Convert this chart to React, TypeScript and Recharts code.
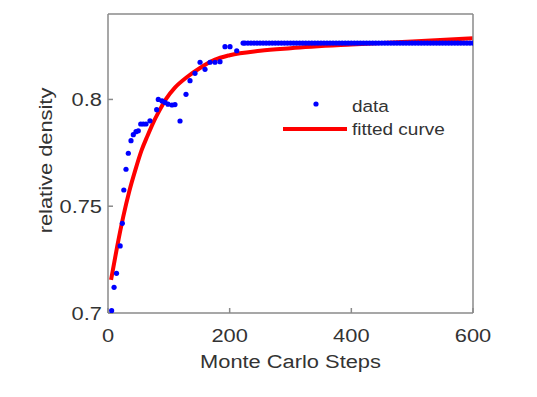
import React from "react";
import {
  ComposedChart,
  Scatter,
  Line,
  XAxis,
  YAxis,
  Legend,
  Label,
} from "recharts";

// measured relative density (early, noisy part of the run)
const stepsEarly = [
  6, 10, 14, 20, 23.5, 26, 29.6, 33.4, 37.8, 41.6, 46, 49.8, 53.8, 58, 62.5, 69,
  80, 82.7, 88.8, 93.7, 98.6, 105.2, 110.1, 118.4, 128.2, 134.8, 143, 151.3,
  159.5, 167.7, 175.9, 184.1, 192.3, 200.6, 211.6,
];
const densityEarly = [
  0.7011, 0.712, 0.7186, 0.7314, 0.742, 0.7576, 0.7673, 0.7748, 0.7807, 0.7835,
  0.7849, 0.7853, 0.7885, 0.7885, 0.7885, 0.79, 0.7952, 0.8, 0.7993, 0.7986,
  0.7978, 0.7974, 0.7976, 0.7899, 0.8024, 0.8088, 0.8122, 0.8174, 0.8141,
  0.8174, 0.8174, 0.8177, 0.8247, 0.8247, 0.8228,
];

// plateau: density stays put after ~220 steps
const stepsPlateau = [
  222, 225, 230, 235, 240, 245, 250, 255, 260, 265, 270, 275, 280, 285, 290,
  295, 300, 305, 310, 315, 320, 325, 330, 335, 340, 345, 350, 355, 360, 365,
  370, 375, 380, 385, 390, 395, 400, 405, 410, 415, 420, 425, 430, 435, 440,
  445, 450, 455, 460, 465, 470, 475, 480, 485, 490, 495, 500, 505, 510, 515,
  520, 525, 530, 535, 540, 545, 550, 555, 560, 565, 570, 575, 580, 585, 590,
  595, 600,
];
const plateauDensity = 0.8264;

// fitted curve
const fitSteps = [5, 15, 25, 35, 45, 55, 65, 75, 85, 95, 110, 130, 150, 175, 200, 250, 300, 400, 500, 600];
const fitDensity = [
  0.7155, 0.731, 0.745, 0.757, 0.767, 0.776, 0.783, 0.7895, 0.795, 0.8, 0.8055,
  0.8105, 0.8145, 0.8185, 0.8207, 0.8228, 0.824, 0.8257, 0.8271, 0.8286,
];

const xTicks = [0, 200, 400, 600];
const yTicks = [0.7, 0.75, 0.8];

const scatterData = [
  ...stepsEarly.map((x, i) => ({ x, y: densityEarly[i] })),
  ...stepsPlateau.map((x) => ({ x, y: plateauDensity })),
];
const fitData = fitSteps.map((x, i) => ({ x, y: fitDensity[i] }));

const FONT = "'Liberation Sans', Arial, sans-serif";
const TEXT = "#333333";
const AXIS = "#8a8a8a";
const STRETCH = 1.15;

function WideText({ x, y, anchor, size, rotate, children }: any) {
  const t = `translate(${x},${y})${rotate ? " rotate(-90)" : ""} scale(${STRETCH},1)`;
  return (
    <text transform={t} textAnchor={anchor} fontSize={size} fontFamily={FONT} fill={TEXT}>
      {children}
    </text>
  );
}

const XTick = (props: any) => (
  <WideText x={props.x} y={props.y + 34} anchor="middle" size={19}>
    {props.payload.value}
  </WideText>
);

const YTick = (props: any) => (
  <WideText x={props.x - 11} y={props.y + 7} anchor="end" size={19}>
    {props.payload.value}
  </WideText>
);

const Dot = (p: any) => <circle cx={p.cx} cy={p.cy} r={2.6} fill="#0000ff" />;

const renderLegend = () => (
  <svg width={190} height={54} style={{ overflow: "visible" }}>
    <circle cx={36} cy={14} r={2.6} fill="#0000ff" />
    <WideText x={72} y={21.5} anchor="start" size={16.5}>data</WideText>
    <line x1={3} x2={67} y1={39} y2={39} stroke="#ff0000" strokeWidth={4} />
    <WideText x={72} y={45} anchor="start" size={16.5}>fitted curve</WideText>
  </svg>
);

export default function App() {
  return (
    <div style={{ position: "absolute", left: 0, top: 0, background: "#fff" }}>
      <ComposedChart
        width={537}
        height={397}
        margin={{ top: 12, right: 62, bottom: 0, left: 0 }}
      >
        <XAxis
          dataKey="x"
          type="number"
          domain={[0, 600]}
          ticks={xTicks}
          allowDataOverflow
          height={84}
          tickSize={-5}
          tickMargin={0}
          tick={<XTick />}
          stroke={AXIS}
          strokeWidth={1.5}
        >
          <Label
            content={(p: any) => (
              <WideText x={p.viewBox.x + p.viewBox.width / 2} y={p.viewBox.y + 55} anchor="middle" size={19}>
                Monte Carlo Steps
              </WideText>
            )}
          />
        </XAxis>
        <XAxis
          xAxisId="top"
          orientation="top"
          type="number"
          domain={[0, 600]}
          ticks={xTicks}
          height={2}
          tickSize={-5}
          tickFormatter={() => ""}
          stroke={AXIS}
          strokeWidth={1.5}
        />
        <YAxis
          dataKey="y"
          type="number"
          domain={[0.7, 0.84]}
          ticks={yTicks}
          allowDataOverflow
          width={108}
          tickSize={-5}
          tickMargin={0}
          tick={<YTick />}
          stroke={AXIS}
          strokeWidth={1.5}
        >
          <Label
            content={(p: any) => (
              <WideText x={52} y={p.viewBox.y + p.viewBox.height / 2 - 3} anchor="middle" size={19} rotate>
                relative density
              </WideText>
            )}
          />
        </YAxis>
        <YAxis
          yAxisId="right"
          orientation="right"
          type="number"
          domain={[0.7, 0.84]}
          ticks={yTicks}
          width={2}
          tickSize={-5}
          tickFormatter={() => ""}
          stroke={AXIS}
          strokeWidth={1.5}
        />
        <Scatter data={scatterData} shape={<Dot />} isAnimationActive={false} />
        <Line
          data={fitData}
          dataKey="y"
          type="monotone"
          stroke="#ff0000"
          strokeWidth={4}
          dot={false}
          activeDot={false}
          isAnimationActive={false}
        />
        <Legend
          layout="horizontal"
          verticalAlign="middle"
          align="center"
          content={renderLegend}
          wrapperStyle={{ left: 280, top: 90, width: 190, height: 54 }}
        />
      </ComposedChart>
    </div>
  );
}
